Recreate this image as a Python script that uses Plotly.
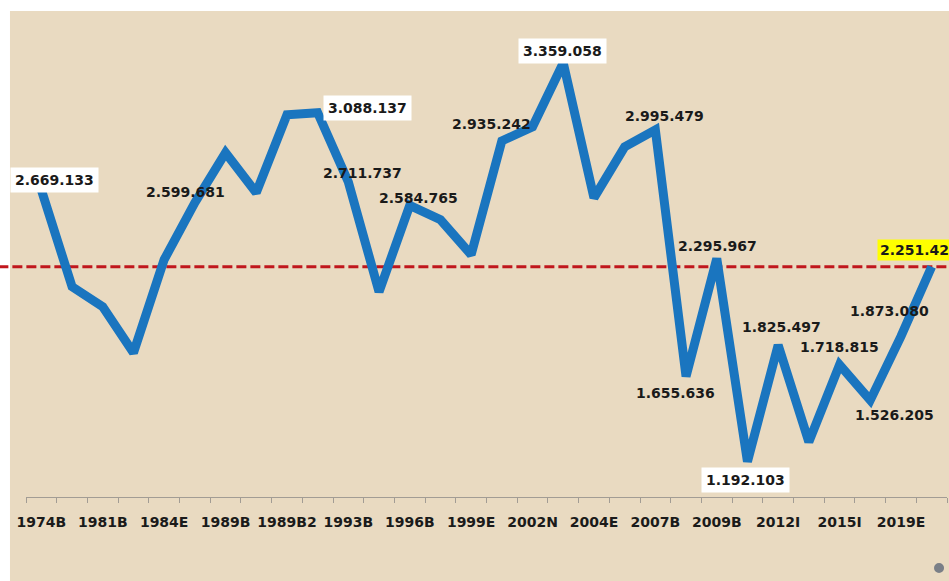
import plotly.graph_objects as go

# ---- data ----
tick_labels = ["1974B", "1981B", "1984E", "1989B", "1989B2", "1993B", "1996B",
               "1999E", "2002N", "2004E", "2007B", "2009B", "2012I", "2015I", "2019E"]
values = [2669133, 2143000, 2034000, 1784000, 2290000, 2599681, 2871000, 2654000,
          3077000, 3088137, 2711737, 2115000, 2584765, 2507000, 2317000, 2935242,
          3012000, 3359058, 2626000, 2903000, 2995479, 1655636, 2295967, 1192103,
          1825497, 1300000, 1718815, 1526205, 1873080, 2251420]
index = list(range(len(values)))
tick_pos = index[::2]

# labelled points: index -> (xshift, yshift, box colour or None)
labelled = {
    0: (13, 10, "white"),
    5: (-9, 11, None),
    9: (50, 5, "white"),
    10: (14, 9, None),
    12: (9, 7, None),
    15: (-10, 17, None),
    17: (-1, 12, "white"),
    20: (9, 14, None),
    21: (-11, -17, None),
    22: (1, 13, None),
    23: (-2, -18, "white"),
    24: (3, 18, None),
    26: (0, 18, None),
    27: (24, -15, None),
    28: (-11, 25, None),
}


def fmt(v):
    return f"{v:,}".replace(",", ".")


FONT = "DejaVu Sans"
BEIGE = "#E9DAC1"

fig = go.Figure()
fig.add_trace(go.Scatter(
    x=index, y=values, mode="lines",
    line=dict(color="#1A75BF", width=9),
    hoverinfo="skip", showlegend=False,
))

annotations = []
for i, (dx, dy, box) in labelled.items():
    annotations.append(dict(
        x=index[i], y=values[i], xref="x", yref="y",
        text=f"<b>{fmt(values[i])}</b>", showarrow=False,
        xshift=dx, yshift=dy,
        font=dict(family=FONT, size=14, color="#1A1A1A"),
        bgcolor=box if box else "rgba(0,0,0,0)", borderpad=4 if box else 0,
    ))
# last value, highlighted in yellow (cut by the picture edge)
annotations.append(dict(
    x=index[-1], y=values[-1], xref="x", yref="y",
    text=f"<b>{fmt(values[-1])[:-1]}</b>", showarrow=False,
    xanchor="left", xshift=-55, yshift=17,
    font=dict(family=FONT, size=14, color="#1A1A1A"),
    bgcolor="#FFFF00", borderpad=2,
))

shapes = [
    # beige panel
    dict(type="rect", xref="paper", yref="paper", x0=-0.0174, x1=1.01,
         y0=-0.19, y1=1.0565, fillcolor=BEIGE, line=dict(width=0), layer="below"),
    # reference line at the latest value
    dict(type="line", xref="paper", yref="y", x0=-0.03, x1=1.01,
         y0=values[-1], y1=values[-1],
         line=dict(color="#C0161C", width=3, dash="10px,4px"), layer="below"),
    # small grey dot in the corner
    dict(type="circle", xref="paper", yref="paper",
         x0=0.9859, x1=0.9968, y0=-0.1652, y1=-0.1435,
         fillcolor="#7A7F87", line=dict(width=0)),
]

fig.update_layout(
    width=949, height=581,
    margin=dict(l=26, r=2, t=37, b=84),
    paper_bgcolor="white", plot_bgcolor="rgba(0,0,0,0)",
    showlegend=False,
    annotations=annotations, shapes=shapes,
    xaxis=dict(
        range=[-0.5, len(values) - 0.5],
        tickmode="array", tickvals=tick_pos,
        ticktext=[f"<b>{t}</b>" for t in tick_labels],
        ticks="outside", ticklen=12, tickcolor="rgba(0,0,0,0)",
        tickfont=dict(family=FONT, size=14, color="#1A1A1A"),
        showgrid=False, zeroline=False,
        showline=True, linecolor="#A29C94", linewidth=1,
        minor=dict(tickmode="array",
                   tickvals=[k - 0.5 for k in range(len(values) + 1)],
                   ticks="outside", ticklen=5, tickcolor="#A29C94",
                   tickwidth=1, showgrid=False),
        fixedrange=True,
    ),
    yaxis=dict(
        range=[1000000, 3500000], visible=False, showgrid=False,
        zeroline=False, fixedrange=True,
    ),
)

fig.write_html("out.html", config={"displayModeBar": False},
               post_script="document.body.style.margin='0';")
